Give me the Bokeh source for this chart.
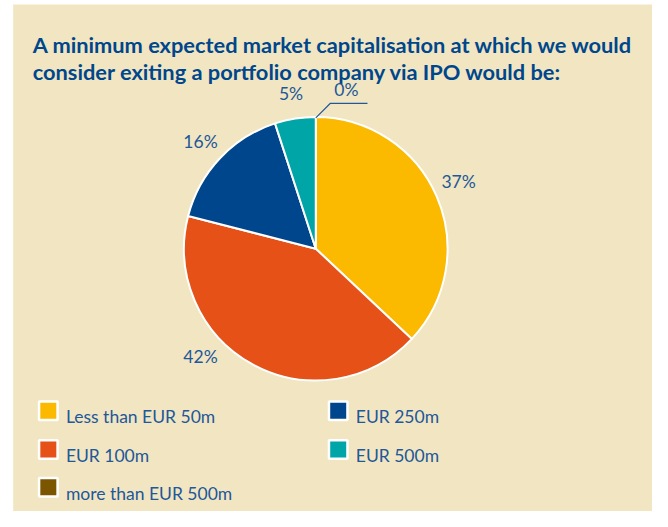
import numpy as np
from bokeh.plotting import figure
from bokeh.models import Range1d, ColumnDataSource
from bokeh.core.properties import value
from bokeh.embed import file_html
from bokeh.resources import INLINE

# ---- data ----
categories = ["Less than EUR 50m", "EUR 100m", "EUR 250m", "EUR 500m", "more than EUR 500m"]
shares = [37, 42, 16, 5, 0]
pct_labels = ["37%", "42%", "16%", "5%", "0%"]
colors = ["#FBB900", "#E65117", "#00468C", "#00A5A8", "#7B5500"]
title_lines = ["A minimum expected market capitalisation at which we would",
               "consider exiting a portfolio company via IPO would be:"]

# ---- layout / style (coordinates in reference-canvas units) ----
BG = "#F1E6C1"
TXT = "#22579A"
TITLE_C = "#00468C"
FONT = "Lato"
W, H = 652, 511
CW, CH = 668, 527
CX, CY, R = 323, -256, 135
label_r = 162
label_nudge_deg = [2, -18, 0, 0, 0]
legend_cols = [0, 0, 1, 1, 0]
legend_rows = [0, 1, 0, 1, 2]
legend_col_x = [49, 346]
legend_row_y = [-423, -463, -502]

p = figure(width=W, height=H, output_backend="svg", toolbar_location=None,
           x_range=Range1d(0, CW), y_range=Range1d(-CH, 0),
           min_border=0, outline_line_color=None,
           background_fill_color="white", border_fill_color="white")
p.axis.visible = False
p.grid.visible = False

# beige panel
p.quad(left=[13], right=[CW], top=[-4], bottom=[-CH], fill_color=BG, line_color=None)

# title
for i, t in enumerate(title_lines):
    p.text(x=[33], y=[-45 - 28.3 * i], text=[t], text_font=value(FONT), text_font_style="bold",
           text_font_size="21.8px", text_color=TITLE_C, text_baseline="alphabetic", text_align="left")

# pie
vals = np.array(shares, dtype=float)
frac = vals / vals.sum()
cum = np.concatenate([[0], np.cumsum(frac)])
start = np.pi / 2 - 2 * np.pi * cum[:-1]
end = np.pi / 2 - 2 * np.pi * cum[1:]
nz = [i for i in range(len(shares)) if shares[i] > 0]
src_nz = ColumnDataSource(dict(start=start[nz], end=end[nz], color=[colors[i] for i in nz]))
p.wedge(x=CX, y=CY, radius=R, start_angle="start", end_angle="end",
        direction="clock", fill_color="color", line_color="white", line_width=2, source=src_nz)

# labels
mid = (start + end) / 2
for i in range(len(shares)):
    if shares[i] > 0:
        a = mid[i] + np.deg2rad(label_nudge_deg[i])
        p.text(x=[CX + label_r * np.cos(a)], y=[CY + label_r * np.sin(a)], text=[pct_labels[i]],
               text_font=value(FONT), text_font_size="17.5px", text_color=TXT,
               text_align="center", text_baseline="middle")
    else:
        a = mid[i]
        x0, y0 = CX + R * np.cos(a), CY + R * np.sin(a)
        x1, y1 = x0 + 15, y0 + 15
        x2 = x1 + 38
        p.line(x=[x0, x1, x2], y=[y0, y1, y1], line_color=TXT, line_width=1.2)
        p.text(x=[x1 + 4], y=[y1 + 3], text=[pct_labels[i]], text_font=value(FONT),
               text_font_size="17.5px", text_color=TXT, text_align="left", text_baseline="bottom")

# legend
for i, c in enumerate(categories):
    lx = legend_col_x[legend_cols[i]]
    ly = legend_row_y[legend_rows[i]]
    p.scatter(x=[lx], y=[ly], marker="square", size=18.5, fill_color=colors[i],
              line_color="white", line_width=2.5)
    p.text(x=[lx + 18], y=[ly - 6.5], text=[c], text_font=value(FONT), text_font_size="17.5px",
           text_color=TXT, text_align="left", text_baseline="alphabetic")

open("out.html", "w").write(file_html(p, INLINE))
